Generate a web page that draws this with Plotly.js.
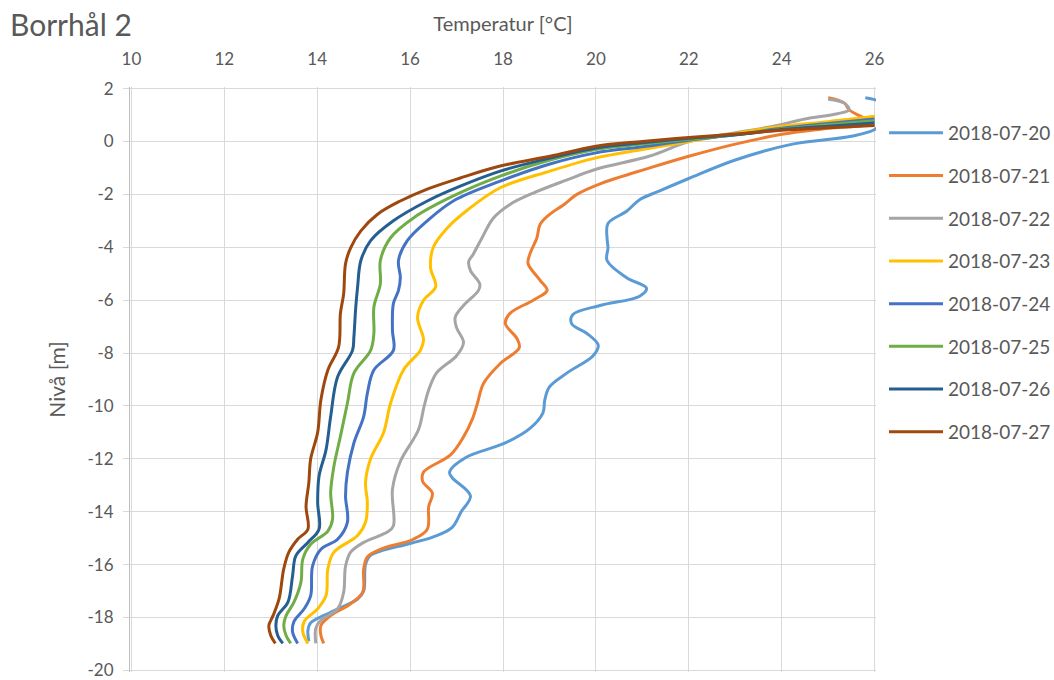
<!DOCTYPE html>
<html>
<head>
<meta charset="utf-8">
<script src="https://cdn.plot.ly/plotly-3.0.1.min.js"></script>
<style>html,body{margin:0;padding:0;background:#fff;}#chart{width:1054px;height:680px;}</style>
</head>
<body>
<div id="chart"></div>
<script>
// Series names (legend)
const seriesNames = ["2018-07-20","2018-07-21","2018-07-22","2018-07-23","2018-07-24","2018-07-25","2018-07-26","2018-07-27"];

// Temperature [°C] and level [m] per series
const temp_0720 = [25.8,26.3,26.2,26.0,25.5,24.23,23.0,22.0,21.37,20.94,20.66,20.26,20.24,20.26,20.24,20.66,21.09,20.94,20.09,19.5,19.48,19.8,20.05,19.94,19.38,19.0,18.9,18.86,18.58,18.05,17.2,16.85,16.9,17.3,17.1,16.9,16.5,16.0,15.15,15.04,15.0,14.87,14.29,13.86,13.8,13.82];
const level_0720 = [1.65,1.35,0.8,0.45,0.2,-0.1,-0.7,-1.4,-1.87,-2.2,-2.64,-3.1,-3.65,-4.02,-4.5,-5.15,-5.55,-5.85,-6.2,-6.55,-6.9,-7.25,-7.7,-8.1,-8.75,-9.28,-9.77,-10.26,-10.85,-11.4,-11.95,-12.5,-12.7,-13.4,-14.0,-14.6,-14.95,-15.2,-15.65,-16.0,-17.0,-17.3,-17.8,-18.2,-18.5,-18.9];

const temp_0721 = [25.0,25.35,25.45,25.9,25.0,24.0,23.0,22.0,21.16,20.09,19.59,19.3,19.01,18.8,18.73,18.58,18.54,18.8,18.95,18.65,18.15,18.05,18.3,18.35,17.94,17.58,17.45,17.34,17.15,16.87,16.29,16.27,16.48,16.4,16.37,16.07,15.36,15.08,15.0,14.98,14.72,14.29,14.08,14.08,14.14];
const level_0721 = [1.65,1.45,1.2,0.7,0.5,0.27,-0.1,-0.56,-1.0,-1.6,-2.0,-2.4,-2.75,-3.13,-3.64,-4.25,-4.62,-5.25,-5.63,-6.0,-6.5,-6.88,-7.45,-7.8,-8.4,-9.15,-9.9,-10.5,-11.17,-11.85,-12.5,-12.85,-13.3,-13.8,-14.66,-15.04,-15.42,-15.71,-16.16,-17.04,-17.48,-17.93,-18.3,-18.68,-18.98];

const temp_0722 = [25.0,25.35,25.45,25.2,24.5,23.8,22.8,22.0,21.16,20.0,19.38,18.65,18.15,17.79,17.55,17.36,17.26,17.3,17.5,17.47,17.15,16.97,17.0,17.15,17.0,16.57,16.4,16.3,16.18,15.79,15.62,15.64,15.51,15.0,14.72,14.61,14.57,14.44,14.08,13.97,13.97];
const level_0722 = [1.6,1.45,1.2,1.05,0.85,0.57,0.27,0.0,-0.55,-1.05,-1.45,-1.95,-2.38,-2.9,-3.64,-4.26,-4.55,-4.88,-5.39,-5.64,-6.2,-6.65,-7.04,-7.6,-8.1,-8.75,-9.4,-10.03,-10.9,-12.1,-13.15,-14.54,-14.77,-15.16,-15.53,-16.06,-17.04,-17.67,-18.1,-18.4,-18.98];

const temp_0723 = [26.0,25.0,24.0,23.0,22.0,21.0,20.0,19.01,17.94,17.23,16.8,16.5,16.44,16.55,16.29,16.16,16.29,16.22,15.86,15.58,15.43,15.15,15.04,15.08,15.04,14.87,14.36,14.23,14.19,14.01,13.72,13.69,13.8];
const level_0723 = [0.95,0.75,0.58,0.3,0.0,-0.3,-0.62,-1.12,-1.75,-2.6,-3.27,-4.0,-4.77,-5.5,-6.0,-6.65,-7.5,-7.9,-8.63,-9.9,-11.0,-12.0,-12.9,-13.65,-14.4,-14.9,-15.53,-16.16,-17.17,-17.67,-18.15,-18.55,-18.98];

const temp_0724 = [26.0,25.0,24.0,23.0,22.0,21.0,20.0,19.01,17.94,16.93,16.37,15.94,15.75,15.79,15.75,15.64,15.62,15.64,15.22,15.08,15.0,14.79,14.65,14.61,14.65,14.44,14.08,13.9,13.86,13.72,13.5,13.47,13.58];
const level_0724 = [0.85,0.68,0.5,0.25,0.05,-0.2,-0.43,-0.85,-1.5,-2.25,-3.0,-3.75,-4.5,-5.14,-5.63,-6.13,-7.14,-7.9,-8.64,-9.52,-10.4,-11.4,-12.52,-13.4,-14.4,-15.04,-15.42,-16.06,-17.17,-17.67,-18.15,-18.55,-18.98];

const temp_0725 = [26.0,25.0,24.0,23.0,22.0,21.0,20.0,19.01,17.94,16.93,16.08,15.58,15.36,15.36,15.22,15.22,15.15,14.79,14.65,14.5,14.36,14.29,14.33,14.23,13.86,13.69,13.65,13.5,13.33,13.28,13.33,13.43];
const level_0725 = [0.78,0.63,0.47,0.25,0.08,-0.1,-0.3,-0.7,-1.31,-2.06,-2.88,-3.64,-4.5,-5.38,-6.27,-7.26,-7.9,-8.76,-9.9,-11.15,-12.28,-13.27,-14.29,-14.73,-15.23,-15.79,-16.66,-17.42,-17.93,-18.3,-18.68,-18.98];

const temp_0726 = [26.0,25.0,24.0,23.0,22.0,21.0,20.0,19.01,17.94,17.08,16.37,15.64,15.15,14.94,14.87,14.83,14.79,14.76,14.44,14.29,14.19,14.04,14.01,14.04,13.8,13.54,13.47,13.37,13.15,13.11,13.15,13.26];
const level_0726 = [0.7,0.58,0.45,0.25,0.12,-0.05,-0.25,-0.63,-1.12,-1.69,-2.25,-3.0,-3.75,-4.5,-5.5,-6.27,-7.39,-7.9,-8.9,-10.4,-11.66,-12.65,-13.65,-14.66,-15.16,-15.67,-16.42,-17.42,-17.93,-18.3,-18.68,-18.98];

const temp_0727 = [26.0,25.0,24.0,23.0,22.0,21.0,20.0,19.01,17.94,17.08,16.37,15.79,15.3,14.94,14.72,14.61,14.57,14.5,14.46,14.23,14.08,14.01,13.86,13.82,13.76,13.8,13.58,13.39,13.28,13.18,13.05,12.96,13.0,13.1];
const level_0727 = [0.6,0.52,0.42,0.28,0.15,0.0,-0.18,-0.56,-0.93,-1.38,-1.8,-2.25,-2.75,-3.38,-4.02,-4.62,-5.75,-6.5,-7.78,-8.64,-9.77,-11.0,-12.0,-12.9,-13.8,-14.66,-15.04,-15.53,-16.16,-17.29,-17.93,-18.3,-18.68,-18.98];

// Axis ticks
const xTicks = [10,12,14,16,18,20,22,24,26];
const yTicks = [2,0,-2,-4,-6,-8,-10,-12,-14,-16,-18,-20];

const temps = [temp_0720,temp_0721,temp_0722,temp_0723,temp_0724,temp_0725,temp_0726,temp_0727];
const levels = [level_0720,level_0721,level_0722,level_0723,level_0724,level_0725,level_0726,level_0727];
const colors = ["#5B9BD5","#ED7D31","#A5A5A5","#FFC000","#4472C4","#70AD47","#255E91","#9E480E"];

const traces = seriesNames.map((n,i)=>({
  type:"scatter", mode:"lines", name:n,
  x: temps[i], y: levels[i],
  legendgroup: "g"+i,
  line:{color:colors[i], width:3, shape:"spline", smoothing:1.0},
  hoverinfo:"skip"
}));

const FONT = "Lato, 'Open Sans', sans-serif";
const TXT = "#595959";

const layout = {
  width:1054, height:680,
  paper_bgcolor:"#fff", plot_bgcolor:"#fff",
  margin:{l:130, r:178, t:87, b:8, autoexpand:false},
  font:{family:FONT, color:TXT, size:17},
  title:{text:"Borrhål 2", x:10/1054, xanchor:"left", xref:"container", y:0.962, yanchor:"middle", yref:"container",
         font:{family:FONT, size:30, color:TXT}},
  xaxis:{
    side:"top", range:[9.97,26.03], tickvals:xTicks, ticktext:xTicks.map(String),
    showgrid:true, gridcolor:"#D9D9D9", gridwidth:1, zeroline:false,
    showline:false, ticks:"", ticklabelstandoff:18,
    tickfont:{size:17, color:TXT, family:FONT},
    title:{text:"Temperatur [°C]", font:{size:20, color:TXT, family:FONT}, standoff:10},
    fixedrange:true
  },
  yaxis:{
    range:[-20.06,2.06], tickvals:yTicks, ticktext:yTicks.map(String),
    showgrid:true, gridcolor:"#D9D9D9", gridwidth:1, zeroline:false,
    showline:true, linecolor:"#BFBFBF", linewidth:1,
    ticks:"outside", ticklen:6, tickcolor:"#D9D9D9", ticklabelstandoff:6,
    ticklabeloverflow:"allow",
    tickfont:{size:17, color:TXT, family:FONT},
    title:{text:"Nivå [m]", font:{size:21, color:TXT, family:FONT}, standoff:16},
    fixedrange:true
  },
  showlegend:true,
  legend:{
    xref:"container", yref:"container",
    x:884/1054, xanchor:"left", y:1-114/680, yanchor:"top",
    traceorder:"grouped", tracegroupgap:15,
    font:{size:19, color:TXT, family:FONT},
    bgcolor:"rgba(0,0,0,0)", itemwidth:54
  }
};

Plotly.newPlot("chart", traces, layout, {displayModeBar:false, staticPlot:true});
</script>
</body>
</html>
